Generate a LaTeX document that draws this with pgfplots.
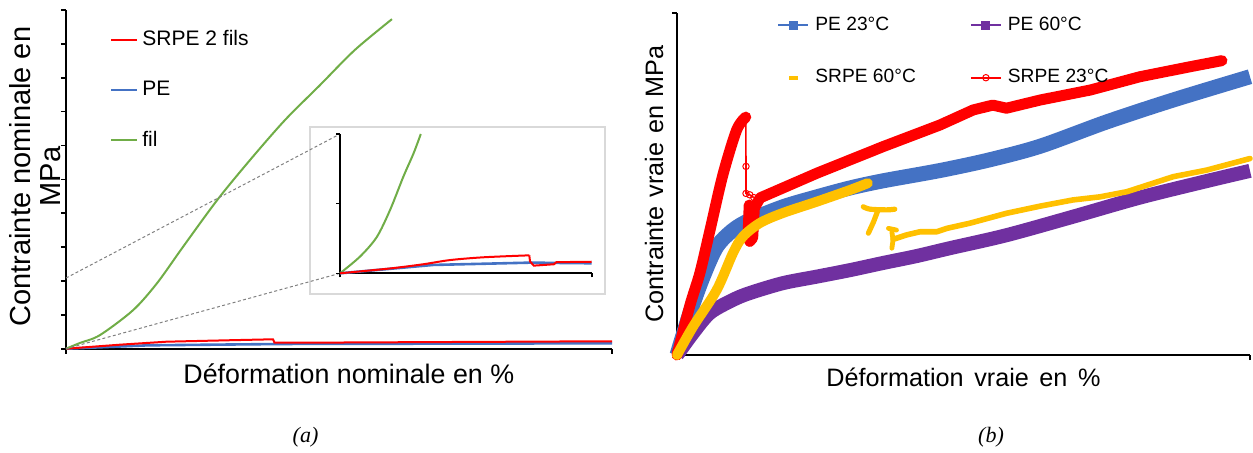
\documentclass[border=0pt]{standalone}
\usepackage{fontspec}
\setmainfont{Liberation Sans}
\newfontfamily\serifit{Liberation Serif}
\usepackage{pgfplots}
\pgfplotsset{compat=1.18}
\definecolor{cred}{RGB}{255,0,0}
\definecolor{cblue}{RGB}{68,114,196}
\definecolor{cgreen}{RGB}{112,173,71}
\definecolor{cpurple}{RGB}{112,48,160}
\definecolor{cyellow}{RGB}{255,192,0}
\begin{document}
\begin{tikzpicture}
\useasboundingbox (0,0) rectangle (626.5pt,226pt);
% ---------------- left main axis
\begin{axis}[
  at={(33pt,51.65pt)}, anchor=south west,
  scale only axis, width=273pt, height=169.35pt,
  xmin=0, xmax=100, ymin=0, ymax=10,
  axis x line*=bottom, axis y line*=left,
  axis line style={line width=1pt, black},
  xtick={0,100}, ytick={0,1,...,10},
  xticklabels={}, yticklabels={},
  tick align=outside, major tick length=2.5pt,
  tick style={line width=0.8pt, black},
  clip=false,
  xlabel={Déformation nominale en \%},
  xlabel style={at={(axis description cs:0.518,0)}, anchor=center, yshift=-12.5pt, font=\fontsize{13.4}{16}\selectfont},
  ylabel={Contrainte nominale en\\MPa},
  ylabel style={at={(axis description cs:-0.0559,0.508)}, anchor=center, align=center, font=\fontsize{14.5}{15}\selectfont},
  legend style={at={(axis description cs:0.0806,0.952)}, anchor=north west, draw=none, fill=none,
     font=\fontsize{10.5}{12}\selectfont, row sep=12.2pt, inner sep=0pt, cells={anchor=west}},
  legend image code/.code={\draw[#1] (0pt,0pt) -- (13pt,0pt);},
]
\addlegendimage{cred, line width=1pt}
\addlegendentry{SRPE 2 fils}
\addlegendimage{cblue, line width=1pt}
\addlegendentry{PE}
\addlegendimage{cgreen, line width=1pt}
\addlegendentry{fil}
\addplot[cblue, line width=1.3pt, forget plot] coordinates {(0,0)(15,0.1)(40,0.14)(100,0.16)};
\addplot[cred, line width=1pt, forget plot] coordinates {(0,0)(10,0.12)(18.4,0.207)(30,0.25)(37.9,0.278)(38.2,0.177)(46.5,0.18)(100,0.22)};
\addplot[cgreen, line width=1pt, smooth, forget plot] coordinates {(0,0)(2.56,0.17)(6.2,0.40)(12.3,1.14)(16.7,1.94)(21.4,3.00)(27.7,4.39)(33.7,5.57)(40.1,6.75)(46.5,7.78)(52.9,8.82)(59.7,9.73)};
\end{axis}
% inset frame and connector lines
\draw[black!15, line width=0.8pt, fill=white] (155pt,79pt) rectangle (302.5pt,162.5pt);
\draw[gray, line width=0.5pt, dash pattern=on 1.5pt off 1.2pt] (33pt,87pt) -- (170pt,159pt);
\draw[gray, line width=0.5pt, dash pattern=on 1.5pt off 1.2pt] (33pt,51.65pt) -- (170pt,89.35pt);
% ---------------- inset
\begin{axis}[
  at={(170pt,89.35pt)}, anchor=south west,
  scale only axis, width=125.85pt, height=69.65pt,
  xmin=0, xmax=100, ymin=0, ymax=2,
  axis x line*=bottom, axis y line*=left,
  axis line style={line width=1pt, black},
  xtick={0,100}, ytick={0,1,2},
  xticklabels={}, yticklabels={},
  tick align=outside, major tick length=2pt,
  tick style={line width=0.8pt, black},
  clip=false,
]
\addplot[cgreen, line width=1pt, smooth] coordinates {(0,0)(7.95,0.24)(14.6,0.52)(19.9,0.91)(25.2,1.39)(29.2,1.72)(32.1,2.0)};
\addplot[cblue, line width=1.3pt] coordinates {(0,0)(37,0.12)(75.5,0.153)(100,0.144)};
\addplot[cred, line width=1pt, smooth] coordinates {(0,0)(20,0.07)(33.1,0.13)(43.7,0.19)(57,0.23)(75.2,0.258)};
\addplot[cred, line width=1pt] coordinates {(75.2,0.258)(75.5,0.17)(77,0.11)(85,0.13)(86,0.16)(100,0.166)};
\end{axis}
% ---------------- right axis
\begin{axis}[
  at={(338.5pt,48.5pt)}, anchor=south west,
  scale only axis, width=286.5pt, height=171.15pt,
  xmin=0, xmax=100, ymin=0, ymax=100,
  axis x line*=bottom, axis y line*=left,
  axis line style={line width=1pt, black},
  xtick={0,100}, ytick={0,100},
  xticklabels={}, yticklabels={},
  tick align=outside, major tick length=2.5pt,
  tick style={line width=0.8pt, black},
  clip=false,
  xlabel={Déformation\hspace{0.42em}vraie\hspace{0.42em}en\hspace{0.42em}\%},
  xlabel style={at={(axis description cs:0.5,0)}, anchor=center, yshift=-11pt, font=\fontsize{12.6}{15}\selectfont},
  ylabel={Contrainte\hspace{0.35em}vraie\hspace{0.35em}en\hspace{0.35em}MPa},
  ylabel style={at={(axis description cs:-0.0401,0.5)}, anchor=center, font=\fontsize{12.6}{15}\selectfont},
  legend columns=2,
  legend style={at={(axis description cs:0.1745,1.0)}, anchor=north west, draw=none, fill=none,
     font=\fontsize{9.6}{12}\selectfont, row sep=14pt, inner sep=0pt, cells={anchor=west},
     /tikz/every odd column/.append style={column sep=1pt},
     /tikz/every even column/.append style={column sep=25pt}},
  legend image code/.code={\draw[mark repeat=2,mark phase=2,#1] plot coordinates {(0pt,0pt) (7.5pt,0pt) (15pt,0pt)};},
]
\addlegendimage{cblue, line width=1pt, mark=square*, mark size=1.75pt}
\addlegendentry{PE 23°C}
\addlegendimage{cpurple, line width=1pt, mark=square*, mark size=1.75pt}
\addlegendentry{PE 60°C}
\addlegendimage{legend image code/.code={\draw[white, opacity=0] (0pt,0pt) -- (15pt,0pt); \draw[cyellow, opacity=1, line width=2pt] (5.5pt,0pt) -- (10pt,0pt);}}
\addlegendentry{SRPE 60°C}
\addlegendimage{cred, line width=1pt, mark=o, mark size=1.6pt, mark options={line width=0.5pt}}
\addlegendentry{SRPE 23°C}
% PE 23
\addplot[cblue, line width=7.5pt, line join=round, smooth, forget plot] coordinates {(0,0)(2.27,12.3)(4.54,22.8)(6.93,31.6)(9.77,36.5)(12.7,39.4)(18.5,43.3)(24.4,46.2)(30.2,48.8)(36,50.9)(45.9,53.9)(54.5,57.0)(63.4,61.0)(75,68.1)(86.6,74.5)(100,81.3)};
% PE 60
\addplot[cpurple, line width=7pt, line join=round, smooth, forget plot] coordinates {(0,0)(2.79,6.43)(5.76,12.3)(9.77,16.1)(12.7,18.1)(18.5,21.0)(24.4,22.9)(30.2,24.8)(36,26.9)(41.8,28.9)(47.6,31.2)(57.5,35.0)(69.1,40.4)(80.8,46.0)(92.4,50.8)(100,53.8)};
% SRPE 23
\addplot[cred, line width=5.5pt, line join=round, line cap=round, smooth, forget plot] coordinates {(0,0)(2.27,14.6)(4.0,24.0)(5.76,36.5)(8.0,52.6)(10.4,65.7)(12.0,69.5)};
\addplot[cred, line width=0.8pt, mark=o, mark size=1.6pt, mark options={line width=0.5pt}, mark indices={2,3,4,5}, forget plot] coordinates {(12.0,69.5)(12.04,55.1)(12.04,47.2)(12.7,46.8)(13.4,46.0)};
\addplot[cred, line width=5.5pt, line join=round, line cap=round, forget plot] coordinates {(12.6,43.8)(12.4,34.5)(12.7,33.2)(13.2,34.2)(13.5,43.0)(14.5,45.9)(24.4,53.1)(36,60.9)(45.9,67.2)(51.7,71.6)(55.1,73.0)(57.5,72.1)(63.4,74.5)(72.1,77.4)(80.8,81.3)(89.5,84.2)(95.1,86.0)};
% SRPE 60
\addplot[cyellow, line width=5pt, line join=round, line cap=round, smooth, forget plot] coordinates {(0,0)(2.79,8.27)(6.93,19.0)(9.77,29.8)(11.5,34.6)(14.5,38.6)(18.5,41.5)(24.4,44.8)(30.2,48.2)(33.3,50.2)};
\addplot[cyellow, line width=2.6pt, line cap=round, smooth, forget plot] coordinates {(32.5,43.3)(33.7,42.6)(36.6,42.4)(38.0,42.6)};
\addplot[cyellow, line width=2.6pt, line cap=round, forget plot] coordinates {(35.1,42.4)(34.3,38.9)(33.4,35.6)};
\addplot[cyellow, line width=2.4pt, line cap=round, forget plot] coordinates {(36.9,37.0)(38.3,36.5)};
\addplot[cyellow, line width=2.4pt, line cap=round, forget plot] coordinates {(37.5,36.0)(37.7,33.6)(37.5,31.2)};
\addplot[cyellow, line width=2.8pt, line cap=round, line join=round, forget plot] coordinates {(37.7,33.8)(38.3,34.1)(40.1,35.1)(42.4,36.0)(45.3,36.0)(47.1,37.0)(51.1,38.5)(57.5,41.4)(63.4,43.5)(69.1,45.3)(73.8,46.2)(78.5,47.7)(86.6,52.1)(92.4,54.0)(100,57.4)};
\end{axis}
% captions
\node[font=\serifit\itshape\fontsize{11}{13}\selectfont] at (152.75pt,7.5pt) {(a)};
\node[font=\serifit\itshape\fontsize{11}{13}\selectfont] at (495.5pt,7.5pt) {(b)};
\end{tikzpicture}
\end{document}
